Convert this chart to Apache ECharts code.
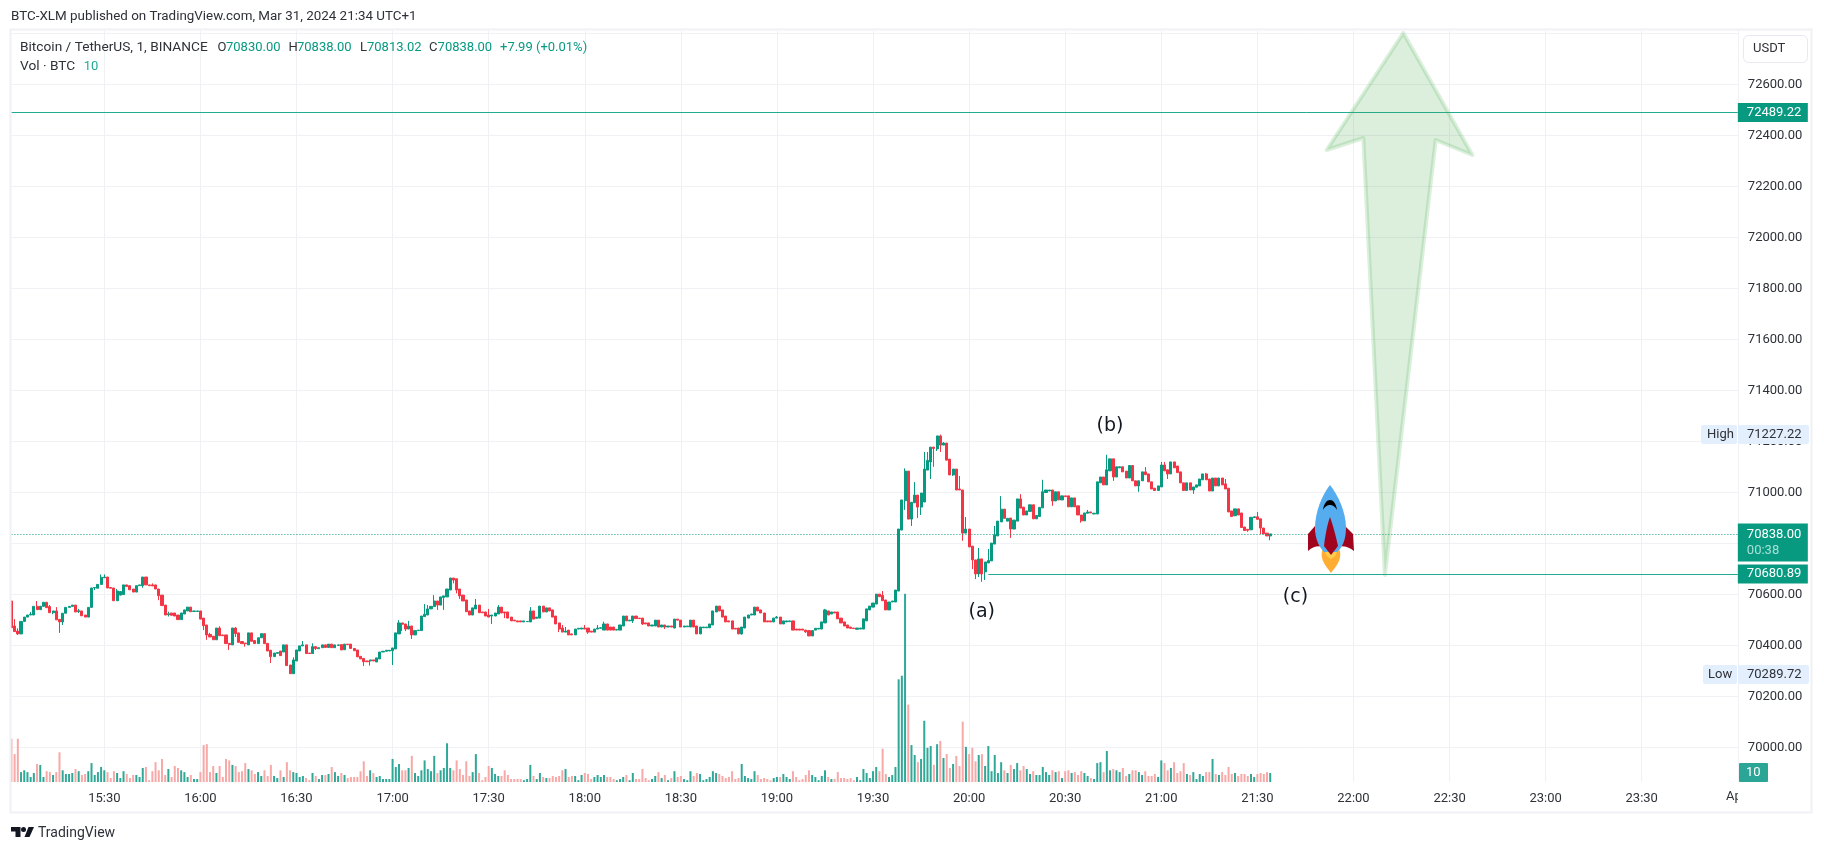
<!DOCTYPE html>
<html style="height: 100%">
<head>
<meta charset="utf-8">
<script src="https://cdn.jsdelivr.net/npm/echarts@6/dist/echarts.min.js"></script>
</head>
<body style="height: 100%; margin: 0; background: #fff">
<div id="container" style="width: 1824px; height: 852px"></div>
<script>
// 1 minute bars, first bar is 15:01
var opens = [
70575,70477,70457,70446,70495,70512,70520,70520,70554,70541,
70554,70570,70553,70529,70536,70503,70493,70527,70550,70554,
70559,70533,70536,70520,70512,70550,70626,70625,70640,70666,
70669,70628,70626,70576,70598,70600,70638,70635,70622,70610,
70635,70635,70669,70638,70638,70638,70622,70598,70559,70521,
70528,70528,70520,70502,70524,70536,70551,70534,70534,70536,
70508,70481,70444,70437,70423,70469,70442,70442,70409,70403,
70469,70450,70416,70410,70403,70450,70420,70408,70431,70447,
70409,70382,70357,70370,70379,70375,70403,70324,70290,70340,
70379,70399,70403,70371,70369,70396,70388,70392,70403,70393,
70406,70392,70401,70404,70384,70406,70406,70389,70383,70358,
70350,70340,70340,70344,70336,70348,70375,70378,70379,70380,
70387,70446,70489,70485,70465,70477,70442,70459,70459,70514,
70520,70544,70553,70575,70559,70589,70591,70618,70665,70662,
70622,70598,70579,70536,70520,70544,70559,70532,70532,70520,
70516,70516,70524,70551,70532,70532,70512,70500,70497,70497,
70493,70494,70493,70536,70507,70508,70555,70532,70548,70540,
70516,70489,70469,70453,70461,70446,70442,70465,70465,70469,
70469,70457,70453,70465,70468,70461,70485,70473,70473,70461,
70461,70477,70516,70497,70497,70516,70508,70508,70489,70489,
70477,70477,70500,70473,70481,70473,70477,70469,70504,70500,
70473,70474,70473,70500,70477,70446,70470,70470,70470,70481,
70532,70555,70540,70516,70497,70497,70468,70469,70446,70469,
70508,70520,70520,70551,70540,70528,70497,70497,70493,70508,
70512,70485,70493,70494,70497,70465,70465,70465,70461,70459,
70438,70461,70465,70465,70489,70536,70524,70532,70532,70508,
70493,70481,70473,70469,70464,70465,70465,70497,70540,70551,
70563,70602,70597,70579,70540,70571,70571,70614,70853,70968,
71084,70896,70960,70990,70943,70963,71088,71120,71178,71171,
71222,71186,71194,71131,71069,71092,71014,71010,70841,70857,
70790,70736,70681,70740,70689,70724,70732,70798,70830,70885,
70935,70888,70900,70857,70888,70975,70943,70912,70926,70952,
70897,70906,70940,71000,71006,71010,70967,71003,70971,70987,
70987,70944,70979,70948,70912,70889,70919,70924,70916,70916,
71038,71061,71030,71085,71132,71061,71097,71101,71084,71057,
71106,71046,71026,71046,71081,71073,71042,71017,71008,71022,
71108,71089,71073,71120,71104,71081,71038,71008,71038,71010,
71021,71026,71050,71073,71053,71006,71057,71026,71057,71034,
71017,70928,70909,70936,70920,70865,70856,70854,70902,70905,
70897,70861,70841,70830
];
var closes = [
70470,70455,70446,70495,70512,70520,70523,70554,70541,70554,
70570,70549,70529,70536,70501,70493,70527,70550,70554,70559,
70532,70537,70517,70512,70550,70626,70628,70640,70668,70669,
70626,70625,70576,70614,70612,70638,70632,70619,70610,70635,
70638,70669,70638,70635,70634,70622,70596,70557,70520,70525,
70519,70516,70502,70528,70540,70551,70533,70536,70536,70504,
70478,70442,70434,70423,70469,70439,70439,70408,70404,70469,
70447,70413,70408,70408,70450,70417,70408,70431,70447,70408,
70379,70357,70371,70373,70361,70403,70322,70290,70344,70383,
70399,70403,70369,70369,70396,70389,70392,70403,70393,70406,
70392,70403,70403,70383,70406,70404,70389,70380,70356,70348,
70337,70337,70344,70340,70352,70375,70378,70382,70382,70391,
70450,70489,70484,70465,70477,70442,70459,70461,70516,70523,
70544,70554,70575,70559,70591,70595,70622,70665,70657,70618,
70595,70575,70533,70520,70548,70559,70529,70529,70516,70512,
70520,70528,70551,70528,70528,70508,70497,70497,70493,70493,
70497,70495,70536,70504,70512,70555,70532,70548,70536,70512,
70485,70465,70453,70457,70442,70442,70465,70468,70469,70465,
70453,70453,70465,70469,70470,70485,70461,70461,70461,70464,
70481,70516,70497,70500,70516,70506,70506,70485,70485,70477,
70481,70500,70473,70481,70473,70477,70473,70504,70500,70473,
70477,70477,70500,70473,70446,70473,70473,70473,70485,70536,
70555,70536,70512,70493,70493,70465,70465,70446,70473,70512,
70520,70524,70551,70536,70528,70493,70493,70493,70508,70512,
70485,70497,70497,70497,70461,70461,70461,70461,70454,70438,
70459,70468,70468,70493,70540,70520,70532,70528,70505,70489,
70477,70469,70468,70467,70469,70469,70505,70544,70555,70567,
70602,70592,70576,70540,70571,70575,70618,70857,70971,71084,
70896,70962,70990,70943,70998,71092,71126,71178,71173,71222,
71186,71194,71127,71069,71092,71010,71010,70841,70857,70787,
70736,70681,70740,70681,70728,70734,70802,70834,70888,70935,
70899,70899,70857,70892,70975,70939,70912,70928,70952,70897,
70910,70942,71003,71010,71010,70967,71003,70971,70987,70984,
70944,70979,70944,70912,70889,70920,70924,70920,70919,71042,
71061,71030,71089,71132,71061,71101,71101,71081,71057,71106,
71046,71026,71046,71081,71070,71042,71014,71008,71026,71108,
71085,71073,71120,71097,71078,71038,71008,71038,71010,71022,
71030,71053,71073,71050,71006,71057,71026,71057,71030,71014,
70924,70906,70936,70912,70863,70851,70852,70903,70905,70895,
70861,70838,70830,70838
];
// wicks that stick out of the body, by bar number
var highWicks = {1:70504,2:70468,6:70532,8:70575,12:70559,14:70551,21:70544,28:70679,29:70679,33:70622,44:70644,49:70533,62:70450,65:70476,70:70473,88:70354,91:70418,94:70409,121:70500,124:70497,129:70563,130:70559,132:70598,145:70583,149:70544,152:70559,162:70551,172:70481,173:70473,179:70481,183:70481,185:70494,239:70516,254:70544,272:70614,279:71095,282:71041,285:71159,286:71159,290:71227,291:71198,296:71065,298:70904,302:70783,305:70779,307:70869,309:70986,315:70994,322:71050,336:70932,342:71148,354:71100,359:71120,360:71120,373:71077,379:71053,389:70924};
var lowWicks = {2:70442,13:70523,15:70450,16:70481,21:70528,26:70618,41:70627,46:70578,49:70514,60:70461,61:70423,68:70383,70:70434,73:70396,81:70332,95:70383,110:70320,112:70322,119:70324,122:70457,123:70457,125:70426,133:70540,135:70540,138:70644,139:70605,140:70583,150:70485,154:70508,171:70453,180:70446,194:70489,197:70481,204:70465,228:70443,248:70450,279:70932,281:70869,283:70900,284:70912,287:71053,288:71101,289:71163,290:71159,294:71065,297:70811,300:70700,301:70661,302:70669,303:70650,304:70657,312:70822,325:70948,334:70882,344:71046,352:71003,361:71053,369:70995,386:70846,390:70837,393:70813};
var volumes = [
48,31,48,11,13,11,5.6,10,20,19,
5.6,12,11,7.8,11,33,13,8.9,8.9,10,
14.4,12,7.8,8.9,12,21,7.8,11,16.7,13,
11,4.4,12,10,4.4,12,8.9,4.4,7.8,7.8,
5.6,15.6,16.7,2,12,22,13,25.6,7.8,14.4,
5.6,17.8,15.6,13,11,5.6,7.8,3.3,3.3,11,
41,42,11,17.8,10,17.8,5.6,25.6,24,19,
17.8,11,12,21,14.4,13,8.9,11,6.7,13,
6.7,19,6.7,4.4,13,5.6,22,13,11,10,
5.6,6.7,4.4,2,10,6.7,3.3,7.8,7.8,8.9,
16.7,11,6.7,10,7.8,4.4,5.6,5.6,5.6,12,
23,6.7,13,10,5.6,6.7,3.3,3.3,3.3,25.6,
16.7,20,13,13,15.6,29,10,6.7,13,24,
14.4,12,29,10,13,15.6,43,15.6,13,24,
14.4,7.8,23,6.7,11,31,10,2,5.6,17.8,
15.6,8.9,6.7,6.7,13,7.8,3.3,3.3,3.3,3.3,
2,3.3,19,6.7,3.3,10,5.6,4.4,4.4,6.7,
5.6,6.7,13,14.4,5.6,6.7,6.7,2,7.8,10,
8.9,3.3,5.6,7.8,5.6,7.8,5.6,5.6,3.3,2,
3.3,5.6,7.8,2,10,3.3,3.3,14.4,4.4,2,
3.3,6.7,11,4.4,7.8,2,4.4,12,5.6,6.7,
3.3,2,12,6.7,10,8.9,2,3.3,5.6,12,
10,8.9,6.7,4.4,5.6,12,3.3,4.4,20,6.7,
4.4,3.3,12,7.8,3.3,4.4,3.3,2,4.4,5.6,
5.6,8.9,5.6,3.3,12,5.6,2,3.3,7.8,13,
7.8,5.6,2,6.7,13,5.6,3.3,3.3,11,4.4,
4.4,3.3,4.4,2,5.6,2,14.4,10,4.4,12,
16.7,12,37,8.9,5.6,7.8,16.7,114,118,209,
86,41,30,22,25.6,68,38,40,19,42,
45.6,26.7,31,15.6,20,29,17.8,67,39,31,
38,23,30,31,17.8,40,12,30,10,22,
13,10,19,14.4,21,13,17.8,14.4,8.9,12,
7.8,7.8,16.7,11,7.8,13,11,12,4.4,12,
13,10,11,7.8,12,10,6.7,4.4,3.3,21,
22,11,34.4,13,14.4,13,11,15.6,6.7,8.9,
13,13,11,7.8,12,6.7,6.7,8.9,5.6,24,
21,13,15.6,22,10,12,21,8.9,7.8,11,
3.3,8.9,6.7,11,11,25.6,8.9,7.8,11,7.8,
16.7,8.9,10,6.7,8.9,8.9,6.7,8.9,5.6,8.9,
10,8.9,11,10
];
var priceTicks = [70000,70200,70400,70600,70800,71000,71200,71400,71600,71800,72000,72200,72400,72600,72800];
var priceLabels = [70000,70200,70400,70600,71000,71200,71400,71600,71800,72000,72200,72400,72600];
var targetPrice = 72489.22;
var stopPrice = 70680.89;
var lastPrice = 70838.00;

// time axis runs to midnight, the last slot is the cut off April label
var categories = [];
for (var m = 15 * 60 + 1; m < 24 * 60; m++) {
	var hh = Math.floor(m / 60), mm = m % 60;
	categories.push(hh + ':' + (mm < 10 ? '0' : '') + mm);
}
categories.push('Apr');

var UP = '#089981', DOWN = '#f23645', LINE = '#22ab94', GRID = '#f0f1f5', TEXT = '#2e3138';
var FONT = 'Roboto';

var candles = opens.map(function (o, i) {
	var c = closes[i];
	var lo = lowWicks[i] !== undefined ? lowWicks[i] : Math.min(o, c);
	var hi = highWicks[i] !== undefined ? highWicks[i] : Math.max(o, c);
	return [o, c, lo, hi];
});
var volumeBars = volumes.map(function (v, i) {
	return {value: v, itemStyle: {color: closes[i] >= opens[i] ? '#2fa898' : '#f7a9a7'}};
});
var onHalfHour = function (index, value) {
	return value.slice(-3) === ':00' || value.slice(-3) === ':30';
};
var txt = function (x, y, s, color, size, extra) {
	return {type: 'text', z: 110, x: x, y: y, silent: true, style: Object.assign({
		text: s, fill: color || TEXT, font: (size || 13) + 'px ' + FONT, textVerticalAlign: 'middle'
	}, extra || {})};
};
var box = function (x, y, w, h, color, r) {
	return {type: 'rect', z: 105, silent: true, shape: {x: x, y: y, width: w, height: h, r: r || 0}, style: {fill: color}};
};
var priceTag = {position: 'end', distance: 0, color: '#fff', fontFamily: FONT, fontSize: 13,
	backgroundColor: UP, width: 60, align: 'left', padding: [3, 1, 3, 9]};

// rocket and logo are paths, graphic component has no path type so they go through a custom series
var drawings = [
	['M1315 526 L1308 534 L1308 551 C1312 547 1318 545 1324 547 C1319 541 1315 534 1315 526Z', '#a0041e'],
	['M1345 526 L1353 534 L1354 551 C1349 547 1343 545 1337 547 C1341 541 1345 534 1345 526Z', '#a0041e'],
	['M1325 546 C1321 550 1321 556 1323 561 C1325 566 1329 570 1331 573 C1333 570 1337 566 1339 561 C1341 556 1341 550 1337 546Z', '#ffac33'],
	['M1326 546 C1324 551 1325 556 1331 559 C1337 556 1338 551 1336 546Z', '#ffcc4d'],
	['M1330 485 C1322 495 1315 512 1315 528 C1315 540 1320 548 1324 552 L1337 552 C1342 548 1346 540 1346 528 C1346 512 1338 495 1330 485Z', '#55acee'],
	['M1330 517 C1327 525 1325 537 1324 546 L1331 555 L1338 546 C1336 537 1333 525 1330 517Z', '#a0041e'],
	['M1323 510 C1324 503 1327 500 1330 500 C1333 500 1336 503 1337 510 C1335 506 1332 505 1330 505 C1328 505 1325 506 1323 510Z', '#000'],
	['M11 827 H20.5 V837 H15.5 V831.5 H11Z', '#131722'],
	['M28.5 827 H34 L29.5 837 H24.5Z', '#131722']
];

var option = {
	animation: false,
	backgroundColor: '#fff',
	textStyle: {fontFamily: FONT},
	grid: {left: 11.43, width: 1726.4, top: 31, height: 751},
	xAxis: {
		type: 'category',
		data: categories,
		boundaryGap: false,
		axisLine: {show: false},
		axisTick: {show: false},
		axisLabel: {interval: onHalfHour, color: TEXT, fontSize: 13, margin: 10, hideOverlap: false},
		splitLine: {show: true, interval: onHalfHour, lineStyle: {color: GRID, width: 1}}
	},
	yAxis: [{
		type: 'value',
		position: 'right',
		min: 69865.6,
		max: 72808.9,
		axisLine: {show: true, lineStyle: {color: GRID}},
		axisTick: {show: false, customValues: priceTicks},
		axisLabel: {customValues: priceLabels, color: TEXT, fontSize: 13, margin: 10, padding: [2, 0, 0, 0],
			formatter: function (v) { return v.toFixed(2); }},
		splitLine: {show: true, lineStyle: {color: GRID, width: 1}}
	}, {
		type: 'value',
		show: false,
		min: 0,
		max: 834,
		splitLine: {show: false}
	}],
	series: [{
		name: 'Vol',
		type: 'bar',
		yAxisIndex: 1,
		barWidth: 2,
		data: volumeBars,
		z: 1
	}, {
		name: 'BTCUSDT',
		type: 'candlestick',
		data: candles,
		barWidth: 2.6,
		itemStyle: {color: UP, color0: DOWN, borderColor: UP, borderColor0: DOWN, borderWidth: 1},
		z: 3,
		markLine: {
			silent: true,
			symbol: 'none',
			animation: false,
			data: [
				{yAxis: targetPrice, lineStyle: {color: LINE, width: 1, type: 'solid'},
					label: Object.assign({}, priceTag, {formatter: targetPrice.toFixed(2)})},
				[{xAxis: categories.indexOf('20:06'), yAxis: stopPrice, lineStyle: {color: LINE, width: 1, type: 'solid'},
					label: Object.assign({}, priceTag, {formatter: stopPrice.toFixed(2)})},
				 {xAxis: categories.length - 1, yAxis: stopPrice}],
				{yAxis: lastPrice, lineStyle: {color: UP, width: 1, type: [1, 2], opacity: 1},
					label: Object.assign({}, priceTag, {
						formatter: '{a|' + lastPrice.toFixed(2) + '}\n{b|00:38}',
						offset: [0, 8.5],
						rich: {a: {color: '#fff', fontSize: 13, lineHeight: 16}, b: {color: '#a8e0d6', fontSize: 13, lineHeight: 16}}
					})}
			]
		}
	}, {
		type: 'custom',
		coordinateSystem: 'none',
		silent: true,
		clip: false,
		z: 60,
		data: [0],
		renderItem: function () {
			return {
				type: 'group',
				children: drawings.map(function (d) {
					return {type: 'path', shape: {pathData: d[0]}, style: {fill: d[1]}};
				})
			};
		}
	}],
	graphic: [
		{type: 'rect', z: 100, silent: true, shape: {x: 10.5, y: 29.5, width: 1801, height: 783},
			style: {fill: 'none', stroke: '#f0f0f6', lineWidth: 2}},

		txt(11, 17, 'BTC-XLM published on TradingView.com, Mar 31, 2024 21:34 UTC+1', TEXT, 13.4),
		txt(20, 47.7, 'Bitcoin / TetherUS, 1, BINANCE', TEXT, 13.7),
		txt(217.5, 47.7, 'O', TEXT, 13), txt(226, 47.7, '70830.00', UP, 13),
		txt(288.6, 47.7, 'H', TEXT, 13), txt(297, 47.7, '70838.00', UP, 13),
		txt(360, 47.7, 'L', TEXT, 13), txt(367, 47.7, '70813.02', UP, 13),
		txt(429, 47.7, 'C', TEXT, 13), txt(437.6, 47.7, '70838.00', UP, 13),
		txt(500, 47.7, '+7.99 (+0.01%)', UP, 13),
		txt(20, 66.7, 'Vol · BTC', TEXT, 13.7), txt(83.7, 66.7, '10', LINE, 13),

		{type: 'rect', z: 105, silent: true, shape: {x: 1743.5, y: 35.5, width: 64, height: 27, r: 5},
			style: {fill: '#fff', stroke: '#e8e9f0', lineWidth: 1}},
		txt(1753, 49, 'USDT', TEXT, 13),

		box(1701, 425, 36, 19, '#e3effd', 2), txt(1707, 434.5, 'High', TEXT, 13),
		box(1738, 425, 71, 19, '#e3effd', 2), txt(1747, 435, '71227.22', TEXT, 13),
		box(1703, 665, 34, 19, '#e3effd', 2), txt(1708, 675, 'Low', TEXT, 13),
		box(1738, 665, 71, 19, '#e3effd', 2), txt(1747, 675, '70289.72', TEXT, 13),
		box(1739, 763, 29, 19, '#2ba596', 1), txt(1746, 773, '10', '#fff', 13),
		txt(1726, 797, 'Ap', TEXT, 13),
		// April label is cut off by the price scale
		{type: 'rect', z: 115, silent: true, shape: {x: 1738, y: 788, width: 14, height: 18}, style: {fill: '#fff'}},

		// big arrow drawn on the chart
		{type: 'polygon', z: 90, silent: true,
			shape: {points: [[1403.3, 33], [1472.3, 155], [1435.7, 140], [1384.9, 575], [1363.3, 138], [1326.7, 150]]},
			style: {fill: 'rgba(76,175,80,0.2)', stroke: 'rgba(76,175,80,0.2)', lineWidth: 4, lineJoin: 'round'}},

		// wave labels
		txt(981.7, 611.7, '(a)', '#131722', 19, {font: '19px "DejaVu Sans"', textAlign: 'center'}),
		txt(1110, 426, '(b)', '#131722', 19, {font: '19px "DejaVu Sans"', textAlign: 'center'}),
		txt(1295.5, 597, '(c)', '#131722', 19, {font: '19px "DejaVu Sans"', textAlign: 'center'}),

		// logo
		{type: 'circle', z: 108, silent: true, shape: {cx: 23.5, cy: 829.5, r: 2.5}, style: {fill: '#131722'}},
		txt(38, 833, 'TradingView', TEXT, 14)
	]
};

var myChart = echarts.init(document.getElementById('container'));
myChart.setOption(option);
</script>
</body>
</html>
